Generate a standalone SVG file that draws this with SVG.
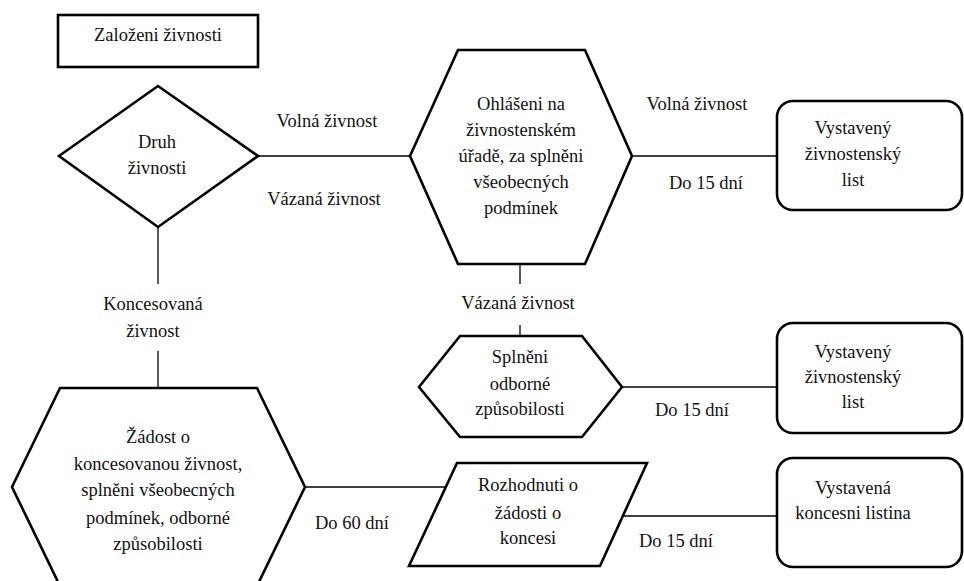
<svg xmlns="http://www.w3.org/2000/svg" width="964" height="581" viewBox="0 0 964 581">
<style>
text{font-size:18.5px;fill:#111;text-anchor:middle}
.s{fill:#fff;stroke:#000;stroke-width:2.6;stroke-linejoin:miter}
.c line{stroke:#000;stroke-width:1.3}
</style>
<rect width="964" height="581" fill="#fff"/>
<g class="c" id="connectors">
<line x1="258" y1="156" x2="411" y2="156"/>
<line x1="158" y1="227" x2="158" y2="284"/>
<line x1="632" y1="156" x2="777" y2="156"/>
<line x1="520" y1="264" x2="520" y2="284"/>
<line x1="520" y1="325" x2="520" y2="336"/>
<line x1="622" y1="387" x2="777" y2="387"/>
<line x1="158" y1="351" x2="158" y2="388"/>
<line x1="305" y1="487" x2="446" y2="487"/>
<line x1="622" y1="516" x2="777" y2="516"/>
</g>
<g id="labels">
<text style="font-family:'Liberation Serif',serif" x="327" y="127">Volná živnost</text>
<text style="font-family:'Liberation Serif',serif" x="324" y="205">Vázaná živnost</text>
<text style="font-family:'Liberation Serif',serif" x="697" y="110">Volná živnost</text>
<text style="font-family:'Liberation Serif',serif" x="706" y="189">Do 15 dní</text>
<text style="font-family:'Liberation Serif',serif" x="518" y="309">Vázaná živnost</text>
<text style="font-family:'Liberation Serif',serif" x="153" y="310">Koncesovaná</text>
<text style="font-family:'Liberation Serif',serif" x="153" y="337">živnost</text>
<text style="font-family:'Liberation Serif',serif" x="692" y="416">Do 15 dní</text>
<text style="font-family:'Liberation Serif',serif" x="352" y="529">Do 60 dní</text>
<text style="font-family:'Liberation Serif',serif" x="676" y="547">Do 15 dní</text>
</g>
<g id="title">
<rect class="s" x="58" y="15" width="200" height="52"/>
<text style="font-family:'Liberation Serif',serif" x="158" y="41">Založeni živnosti</text>
</g>
<g id="druh">
<polygon class="s" points="59,156 158,86 258,156 158,227"/>
<text style="font-family:'Liberation Serif',serif" x="157" y="148">Druh</text>
<text style="font-family:'Liberation Serif',serif" x="157" y="174">živnosti</text>
</g>
<g id="ohlaseni">
<polygon class="s" points="410,156 458,50 585,50 632,156 585,264 458,264"/>
<text style="font-family:'Liberation Serif',serif" x="521" y="110">Ohlášeni na</text>
<text style="font-family:'Liberation Serif',serif" x="521" y="136">živnostenském</text>
<text style="font-family:'Liberation Serif',serif" x="521" y="162">úřadě, za splněni</text>
<text style="font-family:'Liberation Serif',serif" x="521" y="188">všeobecných</text>
<text style="font-family:'Liberation Serif',serif" x="521" y="214">podmínek</text>
</g>
<g id="list1">
<rect class="s" x="777" y="101" width="185" height="109" rx="16"/>
<text style="font-family:'Liberation Serif',serif" x="853" y="134">Vystavený</text>
<text style="font-family:'Liberation Serif',serif" x="853" y="160">živnostenský</text>
<text style="font-family:'Liberation Serif',serif" x="853" y="186">list</text>
</g>
<g id="splneni">
<polygon class="s" points="419,387 460,336 582,336 622,387 582,437 460,437"/>
<text style="font-family:'Liberation Serif',serif" x="520" y="363">Splněni</text>
<text style="font-family:'Liberation Serif',serif" x="520" y="390">odborné</text>
<text style="font-family:'Liberation Serif',serif" x="520" y="415">způsobilosti</text>
</g>
<g id="list2">
<rect class="s" x="777" y="323" width="185" height="110" rx="16"/>
<text style="font-family:'Liberation Serif',serif" x="853" y="358">Vystavený</text>
<text style="font-family:'Liberation Serif',serif" x="853" y="383">živnostenský</text>
<text style="font-family:'Liberation Serif',serif" x="853" y="408">list</text>
</g>
<g id="zadost">
<polygon class="s" points="12,487 60,388 257,388 305,487 257,586 60,586"/>
<text style="font-family:'Liberation Serif',serif" x="158" y="443">Žádost o</text>
<text style="font-family:'Liberation Serif',serif" x="158" y="470">koncesovanou živnost,</text>
<text style="font-family:'Liberation Serif',serif" x="158" y="496">splněni všeobecných</text>
<text style="font-family:'Liberation Serif',serif" x="158" y="524">podmínek, odborné</text>
<text style="font-family:'Liberation Serif',serif" x="158" y="550">způsobilosti</text>
</g>
<g id="rozhodnuti">
<polygon class="s" points="457,463 647,463 600,566 409,566"/>
<text style="font-family:'Liberation Serif',serif" x="528" y="491">Rozhodnuti o</text>
<text style="font-family:'Liberation Serif',serif" x="528" y="519">žádosti o</text>
<text style="font-family:'Liberation Serif',serif" x="528" y="544">koncesi</text>
</g>
<g id="listina">
<rect class="s" x="777" y="458" width="185" height="109" rx="16"/>
<text style="font-family:'Liberation Serif',serif" x="853" y="494">Vystavená</text>
<text style="font-family:'Liberation Serif',serif" x="853" y="519">koncesni listina</text>
</g>
</svg>
